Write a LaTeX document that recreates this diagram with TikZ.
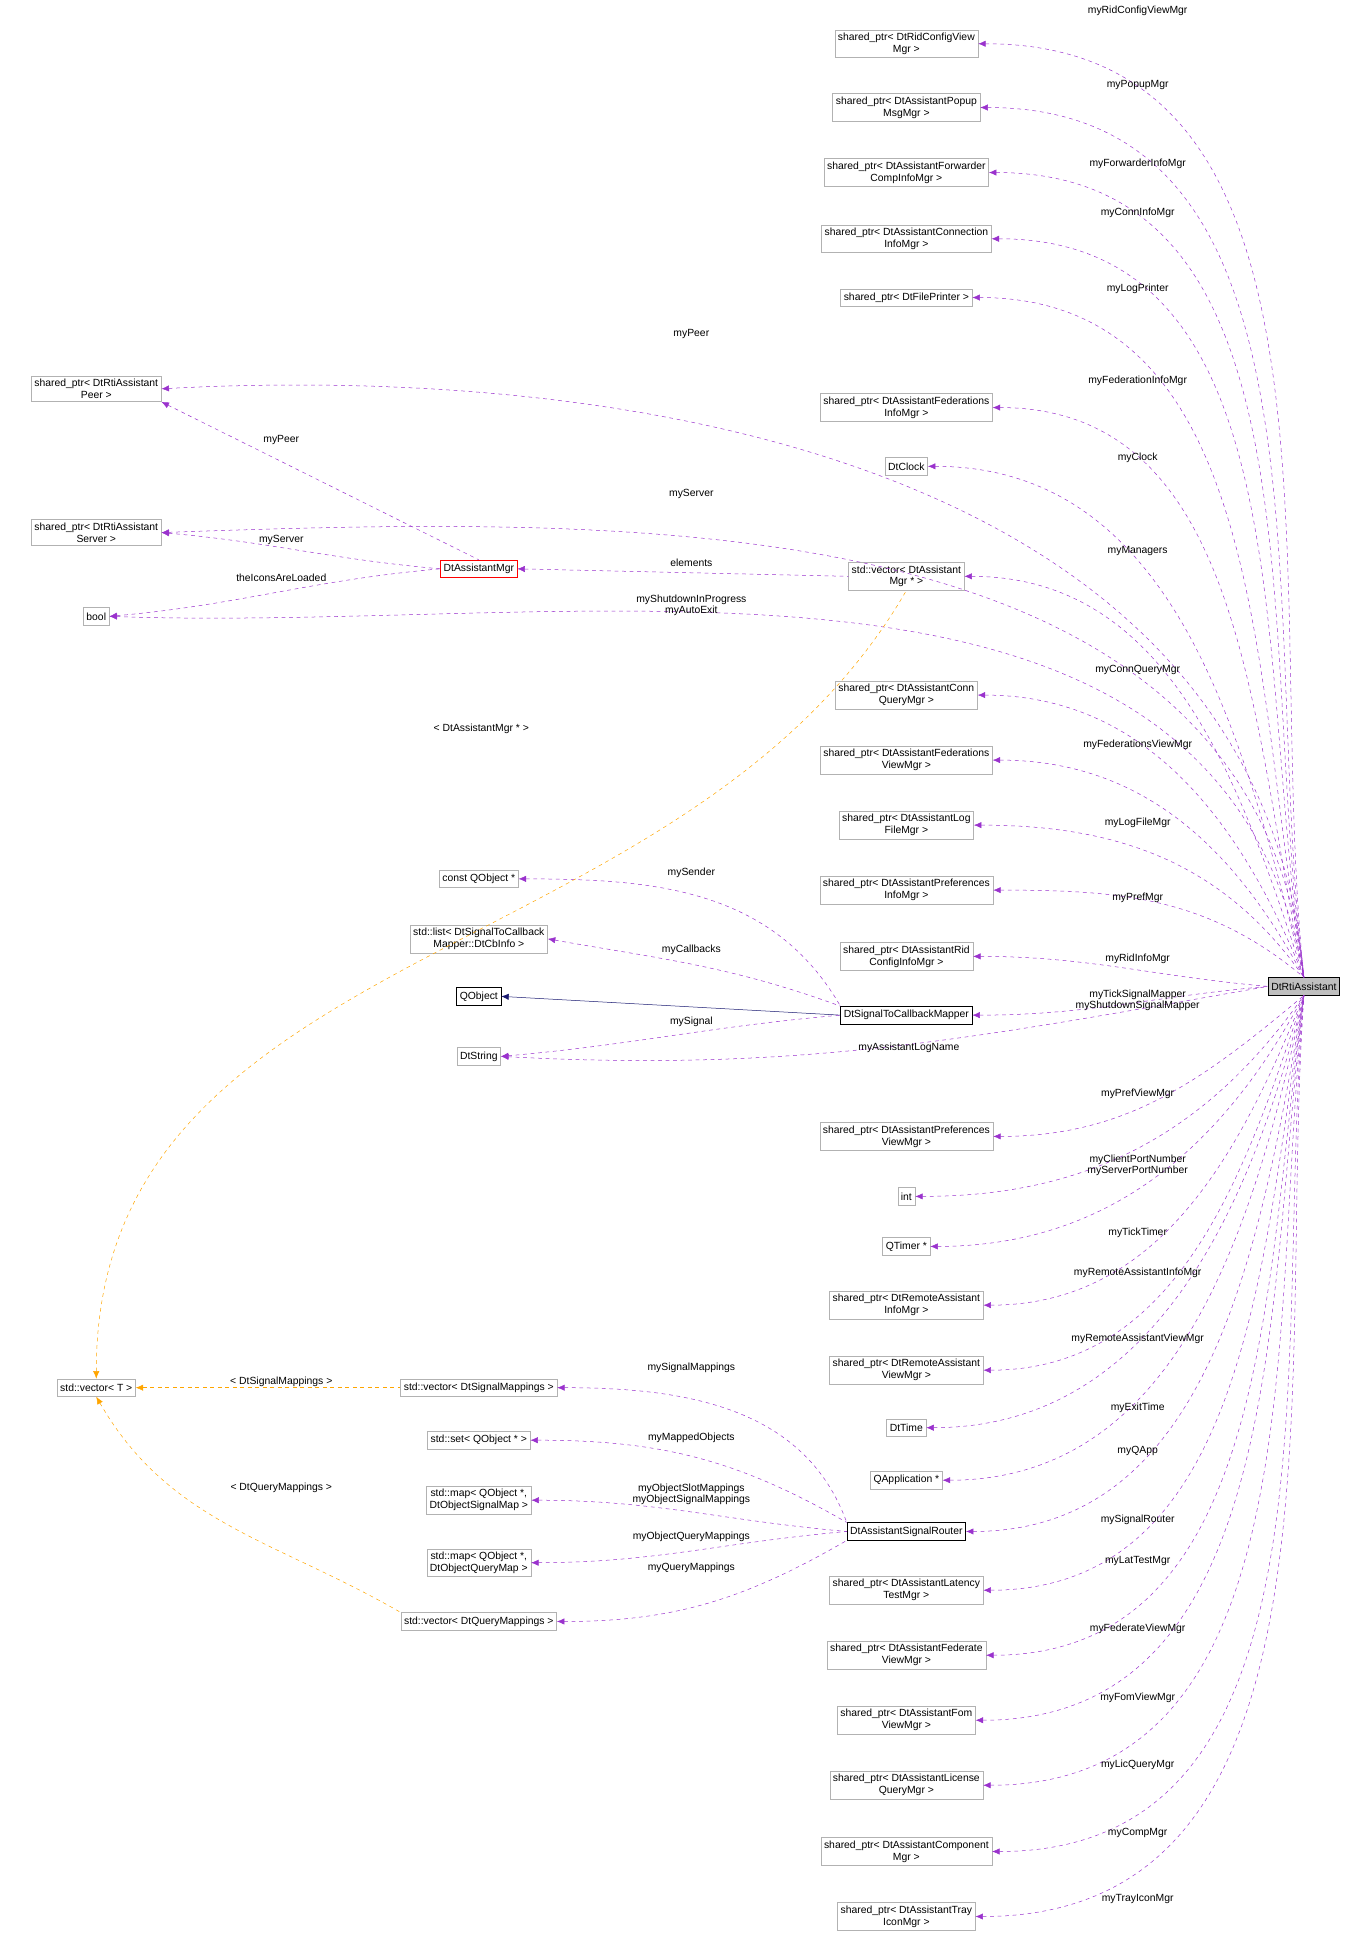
\documentclass[tikz,border=0pt]{standalone}
\usepackage{fontspec}
\setmainfont{Liberation Sans}
\usetikzlibrary{arrows.meta}
\definecolor{pu}{HTML}{9A32CD}
\definecolor{or}{HTML}{FFA500}
\definecolor{nv}{HTML}{191970}
\begin{document}
\begin{tikzpicture}[x=1pt,y=1pt,
 n/.style={draw=gray!60,fill=white,font=\fontsize{8.3}{9.5}\selectfont,align=center,inner sep=2.5pt,minimum height=14pt},
 b/.style={n,draw=black},
 r/.style={n,draw=red},
 e/.style={draw=pu,dashed,{Latex[length=6pt,width=5pt]}-},
 o/.style={draw=or,dashed,{Latex[length=6pt,width=5pt]}-},
 l/.style={font=\fontsize{8.3}{9}\selectfont,align=center,inner sep=0pt}]
\useasboundingbox (0,0) rectangle (1088,-1563);
\node[n,fill=gray!50,draw=black] (rti) at (1043,-789) {DtRtiAssistant};
% right column
\node[n] (a1) at (725,-35) {shared\_ptr< DtRidConfigView\\Mgr >};
\node[n] (a2) at (725,-86) {shared\_ptr< DtAssistantPopup\\MsgMgr >};
\node[n] (a3) at (725,-138) {shared\_ptr< DtAssistantForwarder\\CompInfoMgr >};
\node[n] (a4) at (725,-191) {shared\_ptr< DtAssistantConnection\\InfoMgr >};
\node[n] (a5) at (725,-238) {shared\_ptr< DtFilePrinter >};
\node[n] (a6) at (725,-326) {shared\_ptr< DtAssistantFederations\\InfoMgr >};
\node[n] (a7) at (725,-373) {DtClock};
\node[n] (a8) at (725,-461) {std::vector< DtAssistant\\Mgr * >};
\node[n] (a9) at (725,-556) {shared\_ptr< DtAssistantConn\\QueryMgr >};
\node[n] (a10) at (725,-608) {shared\_ptr< DtAssistantFederations\\ViewMgr >};
\node[n] (a11) at (725,-660) {shared\_ptr< DtAssistantLog\\FileMgr >};
\node[n] (a12) at (725,-712) {shared\_ptr< DtAssistantPreferences\\InfoMgr >};
\node[n] (a13) at (725,-765) {shared\_ptr< DtAssistantRid\\ConfigInfoMgr >};
\node[b] (a14) at (725,-812) {DtSignalToCallbackMapper};
\node[n] (a15) at (725,-909) {shared\_ptr< DtAssistantPreferences\\ViewMgr >};
\node[n] (a16) at (725,-957) {int};
\node[n] (a17) at (725,-997) {QTimer *};
\node[n] (a18) at (725,-1044) {shared\_ptr< DtRemoteAssistant\\InfoMgr >};
\node[n] (a19) at (725,-1096) {shared\_ptr< DtRemoteAssistant\\ViewMgr >};
\node[n] (a20) at (725,-1142) {DtTime};
\node[n] (a21) at (725,-1184) {QApplication *};
\node[b] (a22) at (725,-1225) {DtAssistantSignalRouter};
\node[n] (a23) at (725,-1272) {shared\_ptr< DtAssistantLatency\\TestMgr >};
\node[n] (a24) at (725,-1324) {shared\_ptr< DtAssistantFederate\\ViewMgr >};
\node[n] (a25) at (725,-1376) {shared\_ptr< DtAssistantFom\\ViewMgr >};
\node[n] (a26) at (725,-1428) {shared\_ptr< DtAssistantLicense\\QueryMgr >};
\node[n] (a27) at (725,-1481) {shared\_ptr< DtAssistantComponent\\Mgr >};
\node[n] (a28) at (725,-1533) {shared\_ptr< DtAssistantTray\\IconMgr >};
% left
\node[n] (peer) at (77,-311) {shared\_ptr< DtRtiAssistant\\Peer >};
\node[n] (server) at (77,-426) {shared\_ptr< DtRtiAssistant\\Server >};
\node[n] (bool) at (77,-493) {bool};
\node[r] (amgr) at (383,-455) {DtAssistantMgr};
\node[n] (cqo) at (383,-703) {const QObject *};
\node[n] (slist) at (383,-751) {std::list< DtSignalToCallback\\Mapper::DtCbInfo >};
\node[b] (qobj) at (383,-797) {QObject};
\node[n] (dts) at (383,-845) {DtString};
\node[n] (vt) at (77,-1110) {std::vector< T >};
\node[n] (vsig) at (383,-1110) {std::vector< DtSignalMappings >};
\node[n] (sset) at (383,-1152) {std::set< QObject * >};
\node[n] (msig) at (383,-1200) {std::map< QObject *,\\DtObjectSignalMap >};
\node[n] (mq) at (383,-1250) {std::map< QObject *,\\DtObjectQueryMap >};
\node[n] (vq) at (383,-1297) {std::vector< DtQueryMappings >};
% rti edges above
\foreach \t/\a in {a1/96,a2/97,a3/98,a4/99,a5/100,a6/102,a7/104,a8/108,a9/112,a10/118,a11/125,a12/140}
  \draw[e] (\t.east) to[out=0,in=\a] (rti.north);
\draw[e] (a13.east) to[out=0,in=175] (rti.west);
\draw[e] (a14.east) to[out=0,in=185] (rti.west);
\draw[e] (peer.east) to[out=3,in=95] (rti.north);
\draw[e] (server.east) to[out=2,in=96] (rti.north);
\draw[e] (bool.east) to[out=-2,in=100] (rti.north);
\draw[e] (dts.east) to[out=-3,in=-170] (rti.west);
\foreach \t/\a in {a15/-140,a16/-125,a17/-118,a18/-112,a19/-108,a20/-104,a21/-102,a22/-100,a23/-99,a24/-98,a25/-97,a26/-96,a27/-95,a28/-94}
  \draw[e] (\t.east) to[out=0,in=\a] (rti.south);
% others
\draw[e] (peer.south east) to (amgr.north);
\draw[e] (server.east) to[out=-5,in=175] (amgr.west);
\draw[e] (bool.east) to[out=5,in=-175] (amgr.west);
\draw[e] (amgr.east) to (a8.west);
\draw[e] (cqo.east) to[out=0,in=120] (a14.north west);
\draw[e] (slist.east) to[out=-10,in=160] (a14.north west);
\draw[draw=nv,{Latex[length=6pt,width=5pt]}-] (qobj.east) -- (a14.west);
\draw[e] (dts.east) to[out=5,in=185] (a14.west);
\draw[o] (vt.north) to[out=90,in=-120] (a8.south);
\draw[o] (vt.east) -- (vsig.west);
\draw[o] (vt.south) to[out=-60,in=150] (vq.north west);
\draw[e] (vsig.east) to[out=0,in=110] (a22.north west);
\draw[e] (sset.east) to[out=0,in=150] (a22.north west);
\draw[e] (msig.east) to[out=0,in=175] (a22.west);
\draw[e] (mq.east) to[out=0,in=185] (a22.west);
\draw[e] (vq.east) to[out=0,in=-150] (a22.south west);
% labels
\foreach \p/\s in {9/myRidConfigViewMgr,68/myPopupMgr,131/myForwarderInfoMgr,170/myConnInfoMgr,231/myLogPrinter,305/myFederationInfoMgr,366/myClock,441/myManagers,536/myConnQueryMgr,596/myFederationsViewMgr,658/myLogFileMgr,718/myPrefMgr,767/myRidInfoMgr,875/myPrefViewMgr,986/myTickTimer,1018/myRemoteAssistantInfoMgr,1071/myRemoteAssistantViewMgr,1126/myExitTime,1161/myQApp,1216/mySignalRouter,1249/myLatTestMgr,1303/myFederateViewMgr,1358/myFomViewMgr,1412/myLicQueryMgr,1466/myCompMgr,1519/myTrayIconMgr}
  \node[l] (lb\p) at (910,-\p) {\s};
\node[l] (lc1) at (910,-800) {myTickSignalMapper\\myShutdownSignalMapper};
\node[l] (lc2) at (910,-932) {myClientPortNumber\\myServerPortNumber};
\node[l] (lc3) at (727,-838) {myAssistantLogName};
\node[l] (lc4) at (553,-267) {myPeer};
\node[l] (lc5) at (553,-395) {myServer};
\node[l] (lc6) at (553,-484) {myShutdownInProgress\\myAutoExit};
\node[l] (ld1) at (225,-352) {myPeer};
\node[l] (ld2) at (225,-432) {myServer};
\node[l] (ld3) at (225,-462) {theIconsAreLoaded};
\node[l] (ld4) at (553,-450) {elements};
\node[l] (ld5) at (385,-583) {< DtAssistantMgr * >};
\node[l] (ld6) at (553,-698) {mySender};
\node[l] (ld7) at (553,-760) {myCallbacks};
\node[l] (ld8) at (553,-817) {mySignal};
\node[l] (ld9) at (225,-1105) {< DtSignalMappings >};
\node[l] (ld10) at (225,-1190) {< DtQueryMappings >};
\node[l] (ld11) at (553,-1094) {mySignalMappings};
\node[l] (ld12) at (553,-1150) {myMappedObjects};
\node[l] (ld13) at (553,-1195) {myObjectSlotMappings\\myObjectSignalMappings};
\node[l] (ld14) at (553,-1229) {myObjectQueryMappings};
\node[l] (ld15) at (553,-1254) {myQueryMappings};
\end{tikzpicture}
\end{document}
